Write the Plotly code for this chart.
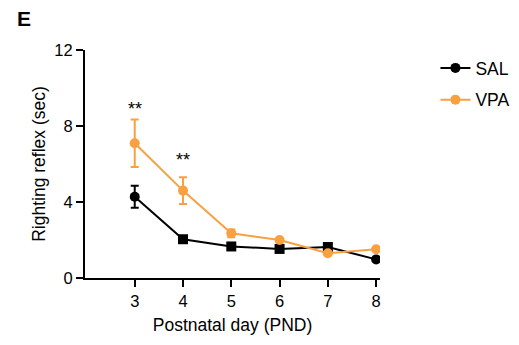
import plotly.graph_objects as go

days = [3, 4, 5, 6, 7, 8]
sal_mean = [4.28, 2.04, 1.66, 1.53, 1.63, 0.98]
sal_err = [0.58, 0.1, 0.1, 0.1, 0.12, 0.08]
sal_symbols = ["circle", "square", "square", "square", "square", "circle"]
vpa_mean = [7.09, 4.6, 2.35, 2.0, 1.3, 1.51]
vpa_err = [1.25, 0.7, 0.2, 0.1, 0.1, 0.08]
star_days = [3, 4]
star_y = [8.92, 6.2]
star_text = ["**", "**"]

BLACK = "#000000"
ORANGE = "#F9A040"
FONT = "Liberation Sans, Arial"

PL, PW, PT, PH = 77, 298, 42, 228  # plot area in figure coords

fig = go.Figure()
fig.add_trace(go.Scatter(
    x=days, y=sal_mean, name="SAL", mode="lines+markers",
    line=dict(color=BLACK, width=2),
    marker=dict(color=BLACK, size=10, symbol=sal_symbols),
    error_y=dict(type="data", array=sal_err, visible=True, color=BLACK, thickness=2, width=4),
    legendgroup="a",
))
fig.add_trace(go.Scatter(
    x=days, y=vpa_mean, name="VPA", mode="lines+markers",
    line=dict(color=ORANGE, width=2),
    marker=dict(color=ORANGE, size=10, symbol="circle"),
    error_y=dict(type="data", array=vpa_err, visible=True, color=ORANGE, thickness=2, width=4),
    legendgroup="b",
))

for d, yv, t in zip(star_days, star_y, star_text):
    fig.add_annotation(x=d, y=yv, text=t, showarrow=False,
                       font=dict(size=18, color=BLACK, family=FONT))

fig.add_annotation(xref="paper", yref="paper", x=(6 - PL) / PW, y=1 + (PT - 10) / PH,
                   xanchor="left", yanchor="middle", text="<b>E</b>", showarrow=False,
                   font=dict(size=21, color=BLACK, family=FONT))

fig.update_layout(
    width=519, height=345,
    margin=dict(l=PL, r=519 - PL - PW, t=PT, b=345 - PT - PH),
    plot_bgcolor="white", paper_bgcolor="white",
    font=dict(family=FONT, size=16, color=BLACK),
    showlegend=True,
    legend=dict(x=(431 - PL) / PW, y=1.0, xanchor="left", yanchor="top",
                font=dict(size=17.5), itemwidth=30, tracegroupgap=6,
                bgcolor="rgba(0,0,0,0)"),
    xaxis=dict(range=[1.97, 8.08], tickvals=days, ticktext=[str(d) for d in days],
               showline=True, linecolor=BLACK, linewidth=2, ticks="outside",
               ticklen=7, tickwidth=2, tickcolor=BLACK, showgrid=False, zeroline=False,
               title=dict(text="Postnatal day (PND)", font=dict(size=17.5), standoff=10),
               tickfont=dict(size=16.5)),
    yaxis=dict(range=[0, 12], tickvals=[0, 4, 8, 12],
               showline=True, linecolor=BLACK, linewidth=2, ticks="outside",
               ticklen=7, tickwidth=2, tickcolor=BLACK, showgrid=False, zeroline=False,
               title=dict(text="Righting reflex (sec)", font=dict(size=17.5), standoff=4),
               tickfont=dict(size=16.5)),
)

fig.write_html("out.html")
